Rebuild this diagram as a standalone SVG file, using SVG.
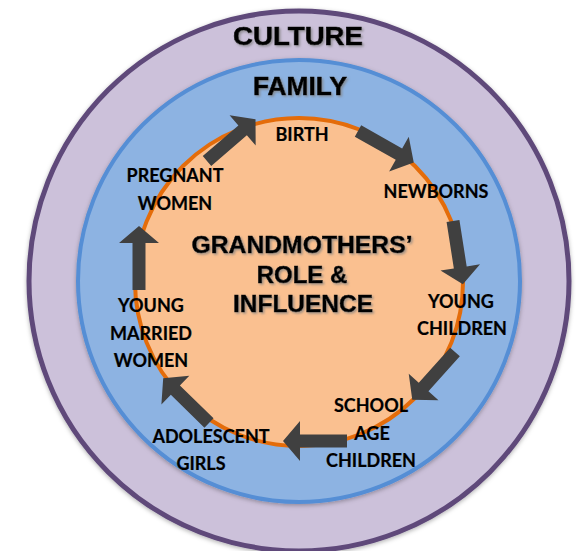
<svg xmlns="http://www.w3.org/2000/svg" width="579" height="551" viewBox="0 0 579 551">
  <style>
    .ring-title { font-family: "Liberation Sans", Arial, sans-serif; font-weight: bold; font-size: 25px; fill: #000; text-anchor: middle; stroke: #000; stroke-width: 0.6px; }
    .core-title { font-family: "Liberation Sans", Arial, sans-serif; font-weight: bold; font-size: 24px; fill: #000; text-anchor: middle; stroke: #000; stroke-width: 0.5px; }
    .stage { font-family: Lato, "Open Sans", "Liberation Sans", sans-serif; font-weight: bold; font-size: 18px; fill: #000; text-anchor: middle; stroke: #000; stroke-width: 0.2px; }
    .arrow { fill: #404040; }
  </style>
  <defs>
    <filter id="textShadow" x="-10%" y="-20%" width="120%" height="150%">
      <feDropShadow dx="1.5" dy="1.5" stdDeviation="1" flood-color="#7f7f7f" flood-opacity="0.75"/>
    </filter>
    <filter id="ringShadow" x="-10%" y="-10%" width="120%" height="120%">
      <feDropShadow dx="0" dy="1.5" stdDeviation="2" flood-color="#000" flood-opacity="0.3"/>
    </filter>
    <!-- block arrow pointing along +x, tail at origin, tip at x=64 -->
    <path id="blockArrow" d="M0,-6.5 L47,-6.5 L47,-20 L64,0 L47,20 L47,6.5 L0,6.5 Z"/>
  </defs>

  <rect width="579" height="551" fill="#ffffff"/>

  <g id="culture">
    <circle cx="299" cy="281" r="270" fill="#CCC1DA" stroke="#5F497A" stroke-width="5" filter="url(#ringShadow)"/>
    <text class="ring-title" x="298" y="45" textLength="130" lengthAdjust="spacingAndGlyphs" filter="url(#textShadow)">CULTURE</text>
  </g>

  <g id="family">
    <circle cx="299" cy="281" r="221" fill="#8DB3E2" stroke="#558ED5" stroke-width="4" filter="url(#ringShadow)"/>
    <text class="ring-title" x="300" y="95" textLength="94" lengthAdjust="spacingAndGlyphs" filter="url(#textShadow)">FAMILY</text>
  </g>

  <g id="grandmothers">
    <circle cx="299" cy="282" r="164" fill="#FAC090" stroke="#E46C0A" stroke-width="4"/>
    <g filter="url(#textShadow)">
      <text class="core-title" x="302" y="253" textLength="221" lengthAdjust="spacingAndGlyphs">GRANDMOTHERS’</text>
      <text class="core-title" x="302" y="283">ROLE &amp;</text>
      <text class="core-title" x="303" y="312" textLength="140" lengthAdjust="spacingAndGlyphs">INFLUENCE</text>
    </g>
  </g>

  <g id="connectors">
    <use href="#blockArrow" class="arrow" transform="translate(139,290) rotate(-90)"/>
    <use href="#blockArrow" class="arrow" transform="translate(207,161) rotate(-40.7)"/>
    <use href="#blockArrow" class="arrow" transform="translate(358,131) rotate(29.4)"/>
    <use href="#blockArrow" class="arrow" transform="translate(453,221) rotate(81.1)"/>
    <use href="#blockArrow" class="arrow" transform="translate(455,352) rotate(131.9)"/>
    <use href="#blockArrow" class="arrow" transform="translate(347,441) rotate(180)"/>
    <use href="#blockArrow" class="arrow" transform="translate(209,423) rotate(-135.7)"/>
  </g>

  <g id="birth">
    <text class="stage" x="302" y="141">BIRTH</text>
  </g>
  <g id="newborns">
    <text class="stage" x="436" y="198">NEWBORNS</text>
  </g>
  <g id="young-children">
    <text class="stage" x="461" y="308">YOUNG</text>
    <text class="stage" x="462" y="335">CHILDREN</text>
  </g>
  <g id="school-age-children">
    <text class="stage" x="371" y="412">SCHOOL</text>
    <text class="stage" x="372" y="440">AGE</text>
    <text class="stage" x="371" y="467">CHILDREN</text>
  </g>
  <g id="adolescent-girls">
    <text class="stage" x="211" y="443">ADOLESCENT</text>
    <text class="stage" x="201" y="470">GIRLS</text>
  </g>
  <g id="young-married-women">
    <text class="stage" x="151" y="312">YOUNG</text>
    <text class="stage" x="151" y="340">MARRIED</text>
    <text class="stage" x="151" y="367">WOMEN</text>
  </g>
  <g id="pregnant-women">
    <text class="stage" x="175" y="182">PREGNANT</text>
    <text class="stage" x="175" y="210">WOMEN</text>
  </g>
</svg>
